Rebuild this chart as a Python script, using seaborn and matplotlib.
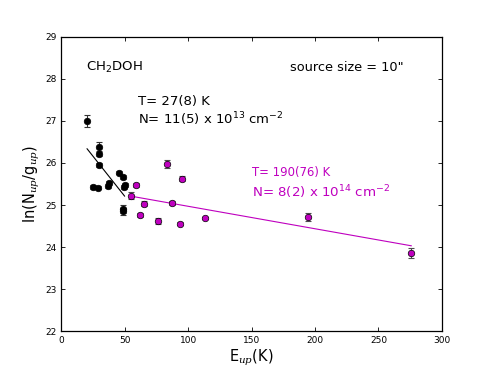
import numpy as np
import matplotlib
matplotlib.use('Agg')
import matplotlib.pyplot as plt
import seaborn as sns

# rotation diagram points: warm (black) and hot (magenta) components
eup_cold = [20.2, 29.3, 29.3, 29.3, 25.0, 28.5, 36.4, 37.7, 45.6, 48.6, 49.5, 50.3, 48.7, 48.7]
lnn_cold = [27.00, 26.38, 26.22, 25.95, 25.43, 25.41, 25.45, 25.52, 25.77, 25.67, 25.42, 25.47, 24.90, 24.85]
err_cold = [0.15, 0.11, 0.06, 0.05, 0.04, 0.04, 0.05, 0.04, 0.04, 0.04, 0.05, 0.05, 0.10, 0.08]

eup_hot = [58.8, 54.9, 65.0, 62.2, 76.4, 87.6, 83.6, 95.1, 93.8, 113.5, 194.4, 275.8]
lnn_hot = [25.48, 25.22, 25.03, 24.77, 24.62, 25.05, 25.98, 25.63, 24.56, 24.69, 24.71, 23.85]
err_hot = [0.05, 0.08, 0.06, 0.05, 0.06, 0.04, 0.09, 0.05, 0.04, 0.03, 0.10, 0.12]

# fitted lines, endpoints
fit_cold_x = [20.2, 49.9]
fit_cold_y = [26.34, 25.21]
fit_hot_x = [55.0, 276.0]
fit_hot_y = [25.21, 24.03]

sns.set_style('ticks')
plt.rcParams['font.family'] = ['DejaVu Sans']
plt.rcParams['mathtext.fontset'] = 'custom'
plt.rcParams['mathtext.rm'] = 'DejaVu Sans'
plt.rcParams['mathtext.it'] = 'DejaVu Serif:italic'
plt.rcParams['xtick.direction'] = 'in'
plt.rcParams['ytick.direction'] = 'in'
for key in ['text.color', 'axes.labelcolor', 'xtick.color', 'ytick.color', 'axes.edgecolor']:
    plt.rcParams[key] = 'black'

fig, ax = plt.subplots(figsize=(4.91, 3.68), dpi=100)
fig.subplots_adjust(left=0.125, right=0.9, bottom=0.1, top=0.9)

ax.errorbar(eup_cold, lnn_cold, yerr=err_cold, fmt='none', ecolor='0.2',
            elinewidth=0.8, capsize=2, capthick=0.8, zorder=2)
ax.errorbar(eup_hot, lnn_hot, yerr=err_hot, fmt='none', ecolor='0.3',
            elinewidth=0.8, capsize=2, capthick=0.8, zorder=2)

sns.lineplot(x=fit_cold_x, y=fit_cold_y, color='k', linewidth=0.8, ax=ax, zorder=3)
sns.lineplot(x=fit_hot_x, y=fit_hot_y, color='m', linewidth=0.8, ax=ax, zorder=3)

sns.scatterplot(x=eup_cold, y=lnn_cold, color='k', s=22, edgecolor='k',
                linewidth=0.5, ax=ax, zorder=4)
sns.scatterplot(x=eup_hot, y=lnn_hot, color='m', s=22, edgecolor='k',
                linewidth=0.5, ax=ax, zorder=4)

ax.set_xlim(0, 300)
ax.set_ylim(22, 29)
ax.set_xticks(range(0, 301, 50))
ax.set_yticks(range(22, 30))
ax.tick_params(labelsize=6.5, length=3, width=0.6, top=True, right=True)
for sp in ax.spines.values():
    sp.set_linewidth(0.9)
    sp.set_visible(True)

ax.set_xlabel(r'E$_{up}$(K)', fontsize=10.5, labelpad=2)
ax.set_ylabel(r'ln(N$_{up}$/g$_{up}$)', fontsize=10.5, labelpad=2)

ax.text(19.7, 28.2, r'CH$_2$DOH', fontsize=9.5, va='baseline')
ax.text(180.5, 28.18, 'source size = 10"', fontsize=9.3, va='baseline')
ax.text(60.4, 27.37, 'T= 27(8) K', fontsize=9.5, va='baseline')
ax.text(60.4, 26.93, r'N= 11(5) x 10$^{13}$ cm$^{-2}$', fontsize=9.5, va='baseline')
ax.text(150.3, 25.68, 'T= 190(76) K', fontsize=8.4, va='baseline', color='m')
ax.text(150.3, 25.19, r'N= 8(2) x 10$^{14}$ cm$^{-2}$', fontsize=9.6, va='baseline', color='m')

plt.savefig('out.png', dpi=100)
plt.close()
